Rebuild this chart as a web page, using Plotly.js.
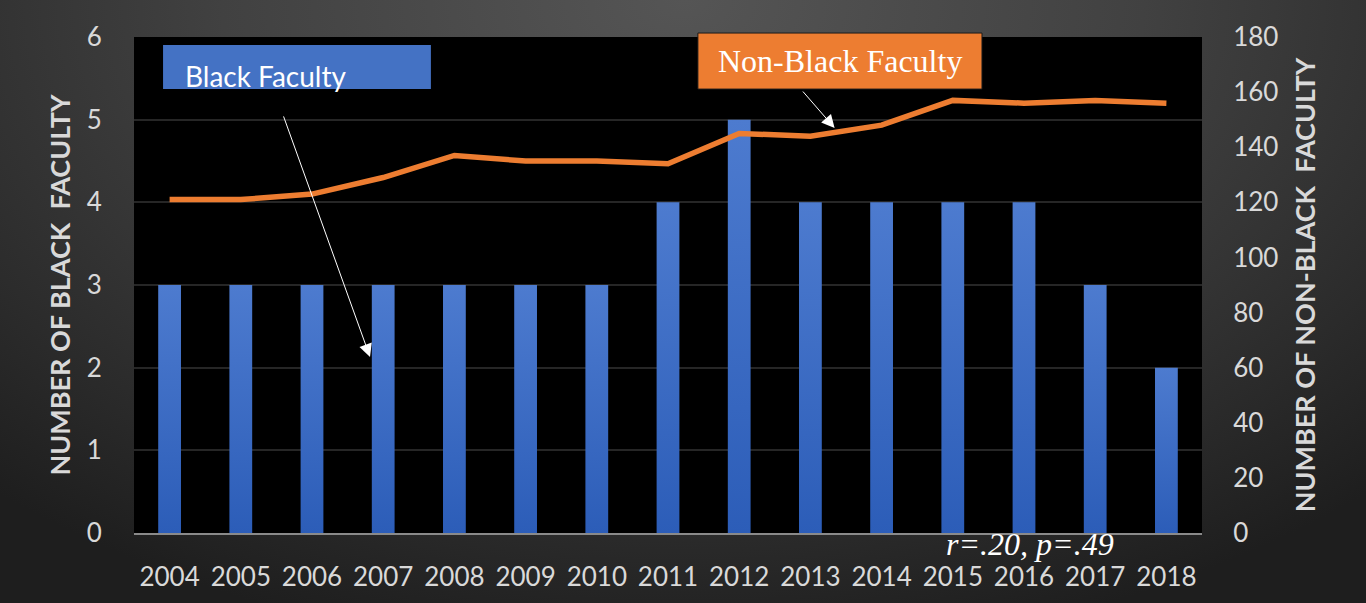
<!DOCTYPE html>
<html>
<head>
<meta charset="utf-8">
<script src="https://cdn.plot.ly/plotly-3.0.1.min.js"></script>
<style>
html,body{margin:0;padding:0;width:1366px;height:603px;overflow:hidden;
background: radial-gradient(ellipse 75% 110% at 50% 0%, #555555 0%, #414141 45%, #2b2b2b 80%, #1e1e1e 100%);}
#chart{width:1366px;height:603px;}
</style>
</head>
<body>
<div id="chart"></div>
<script>
const years = ['2004','2005','2006','2007','2008','2009','2010','2011','2012','2013','2014','2015','2016','2017','2018'];
const blackFaculty = [3,3,3,3,3,3,3,4,5,4,4,4,4,3,2];
const nonBlackFaculty = [121,121,123,129,137,135,135,134,145,144,148,157,156,157,156];
const leftTicks = [0,1,2,3,4,5,6];
const rightTicks = [0,20,40,60,80,100,120,140,160,180];

const sans = 'Lato, "Open Sans", sans-serif';
const serif = '"Liberation Serif", "DejaVu Serif", serif';
const tickFont = {family:sans, size:26, color:'#d9d9d9'};
const titleFont = {family:sans, size:27, color:'#d9d9d9', weight:'bold'};

const traces = [
  {type:'bar', x:years, y:blackFaculty, name:'Black Faculty', yaxis:'y',
   marker:{color:'#3d6cc6', line:{width:0}}, hoverinfo:'x+y'},
  {type:'scatter', mode:'lines', x:years, y:nonBlackFaculty, name:'Non-Black Faculty', yaxis:'y2',
   line:{color:'#ed7d31', width:5.5}}
];

const layout = {
  width:1366, height:603,
  paper_bgcolor:'rgba(0,0,0,0)', plot_bgcolor:'#000000',
  margin:{l:134, r:164, t:37, b:70},
  showlegend:false,
  bargap:0.68,
  xaxis:{type:'category', tickfont:tickFont, ticks:'outside', ticklen:20, tickcolor:'rgba(0,0,0,0)',
         showgrid:false, showline:true, linecolor:'#8a8a8a', linewidth:2, zeroline:false, fixedrange:true},
  yaxis:{range:[0,6], tickvals:leftTicks, tickfont:tickFont, ticks:'outside', ticklen:26, tickcolor:'rgba(0,0,0,0)',
         showgrid:true, gridcolor:'#262626', gridwidth:2, zeroline:false, showline:false,
         title:{text:'NUMBER OF BLACK  FACULTY', font:titleFont, standoff:8}, automargin:false},
  yaxis2:{range:[0,180], tickvals:rightTicks, overlaying:'y', side:'right', tickfont:tickFont,
          ticks:'outside', ticklen:25, tickcolor:'rgba(0,0,0,0)', showgrid:false, zeroline:false, showline:false,
          title:{text:'NUMBER OF NON-BLACK  FACULTY', font:titleFont, standoff:18}, automargin:false},
  shapes:[
    {type:'rect', xref:'paper', yref:'paper', x0:0.0272, x1:0.278, y0:0.895, y1:0.984,
     fillcolor:'#4472c4', line:{width:0}, layer:'above'},
    {type:'rect', xref:'paper', yref:'paper', x0:0.528, x1:0.794, y0:0.895, y1:1.008,
     fillcolor:'#ed7d31', line:{width:1, color:'#1a1a1a'}, layer:'above'}
  ],
  annotations:[
    {xref:'paper', yref:'paper', x:0.0459, y:0.922, xanchor:'left', yanchor:'middle', showarrow:false,
     text:'Black Faculty', font:{family:sans, size:28, color:'#ffffff'}},
    {xref:'paper', yref:'paper', x:0.661, y:0.952, xanchor:'center', yanchor:'middle', showarrow:false,
     text:'Non-Black Faculty', font:{family:serif, size:32, color:'#ffffff'}},
    {xref:'paper', yref:'paper', x:0.839, y:-0.022, xanchor:'center', yanchor:'middle', showarrow:false,
     text:'<i>r=.20, p=.49</i>', font:{family:serif, size:32, color:'#ffffff'}},
    {xref:'paper', yref:'paper', x:0.221, y:0.355, ax:-87, ay:-242, text:'',
     showarrow:true, arrowhead:2, arrowsize:2.6, arrowwidth:1, arrowcolor:'#ffffff'},
    {xref:'paper', yref:'paper', x:0.656, y:0.8165, ax:-33, ay:-38, text:'',
     showarrow:true, arrowhead:2, arrowsize:2.6, arrowwidth:1, arrowcolor:'#ffffff'}
  ]
};

Plotly.newPlot('chart', traces, layout, {displayModeBar:false, staticPlot:true}).then(function(gd){
  // vertical gradient on bars, as in the reference
  const svg = gd.querySelector('svg.main-svg');
  const ns = 'http://www.w3.org/2000/svg';
  let defs = svg.querySelector('defs');
  if (!defs) { defs = document.createElementNS(ns,'defs'); svg.insertBefore(defs, svg.firstChild); }
  const lg = document.createElementNS(ns,'linearGradient');
  lg.setAttribute('id','barGrad'); lg.setAttribute('x1','0'); lg.setAttribute('y1','0');
  lg.setAttribute('x2','0'); lg.setAttribute('y2','1');
  lg.setAttribute('gradientUnits','objectBoundingBox');
  [['0','#4d7bcf'],['1','#2c5db8']].forEach(function(s){
    const st = document.createElementNS(ns,'stop'); st.setAttribute('offset',s[0]); st.setAttribute('stop-color',s[1]); lg.appendChild(st);
  });
  defs.appendChild(lg);
  gd.querySelectorAll('.barlayer .point path').forEach(function(p){ p.style.fill = 'url(#barGrad)'; });
});
</script>
</body>
</html>
